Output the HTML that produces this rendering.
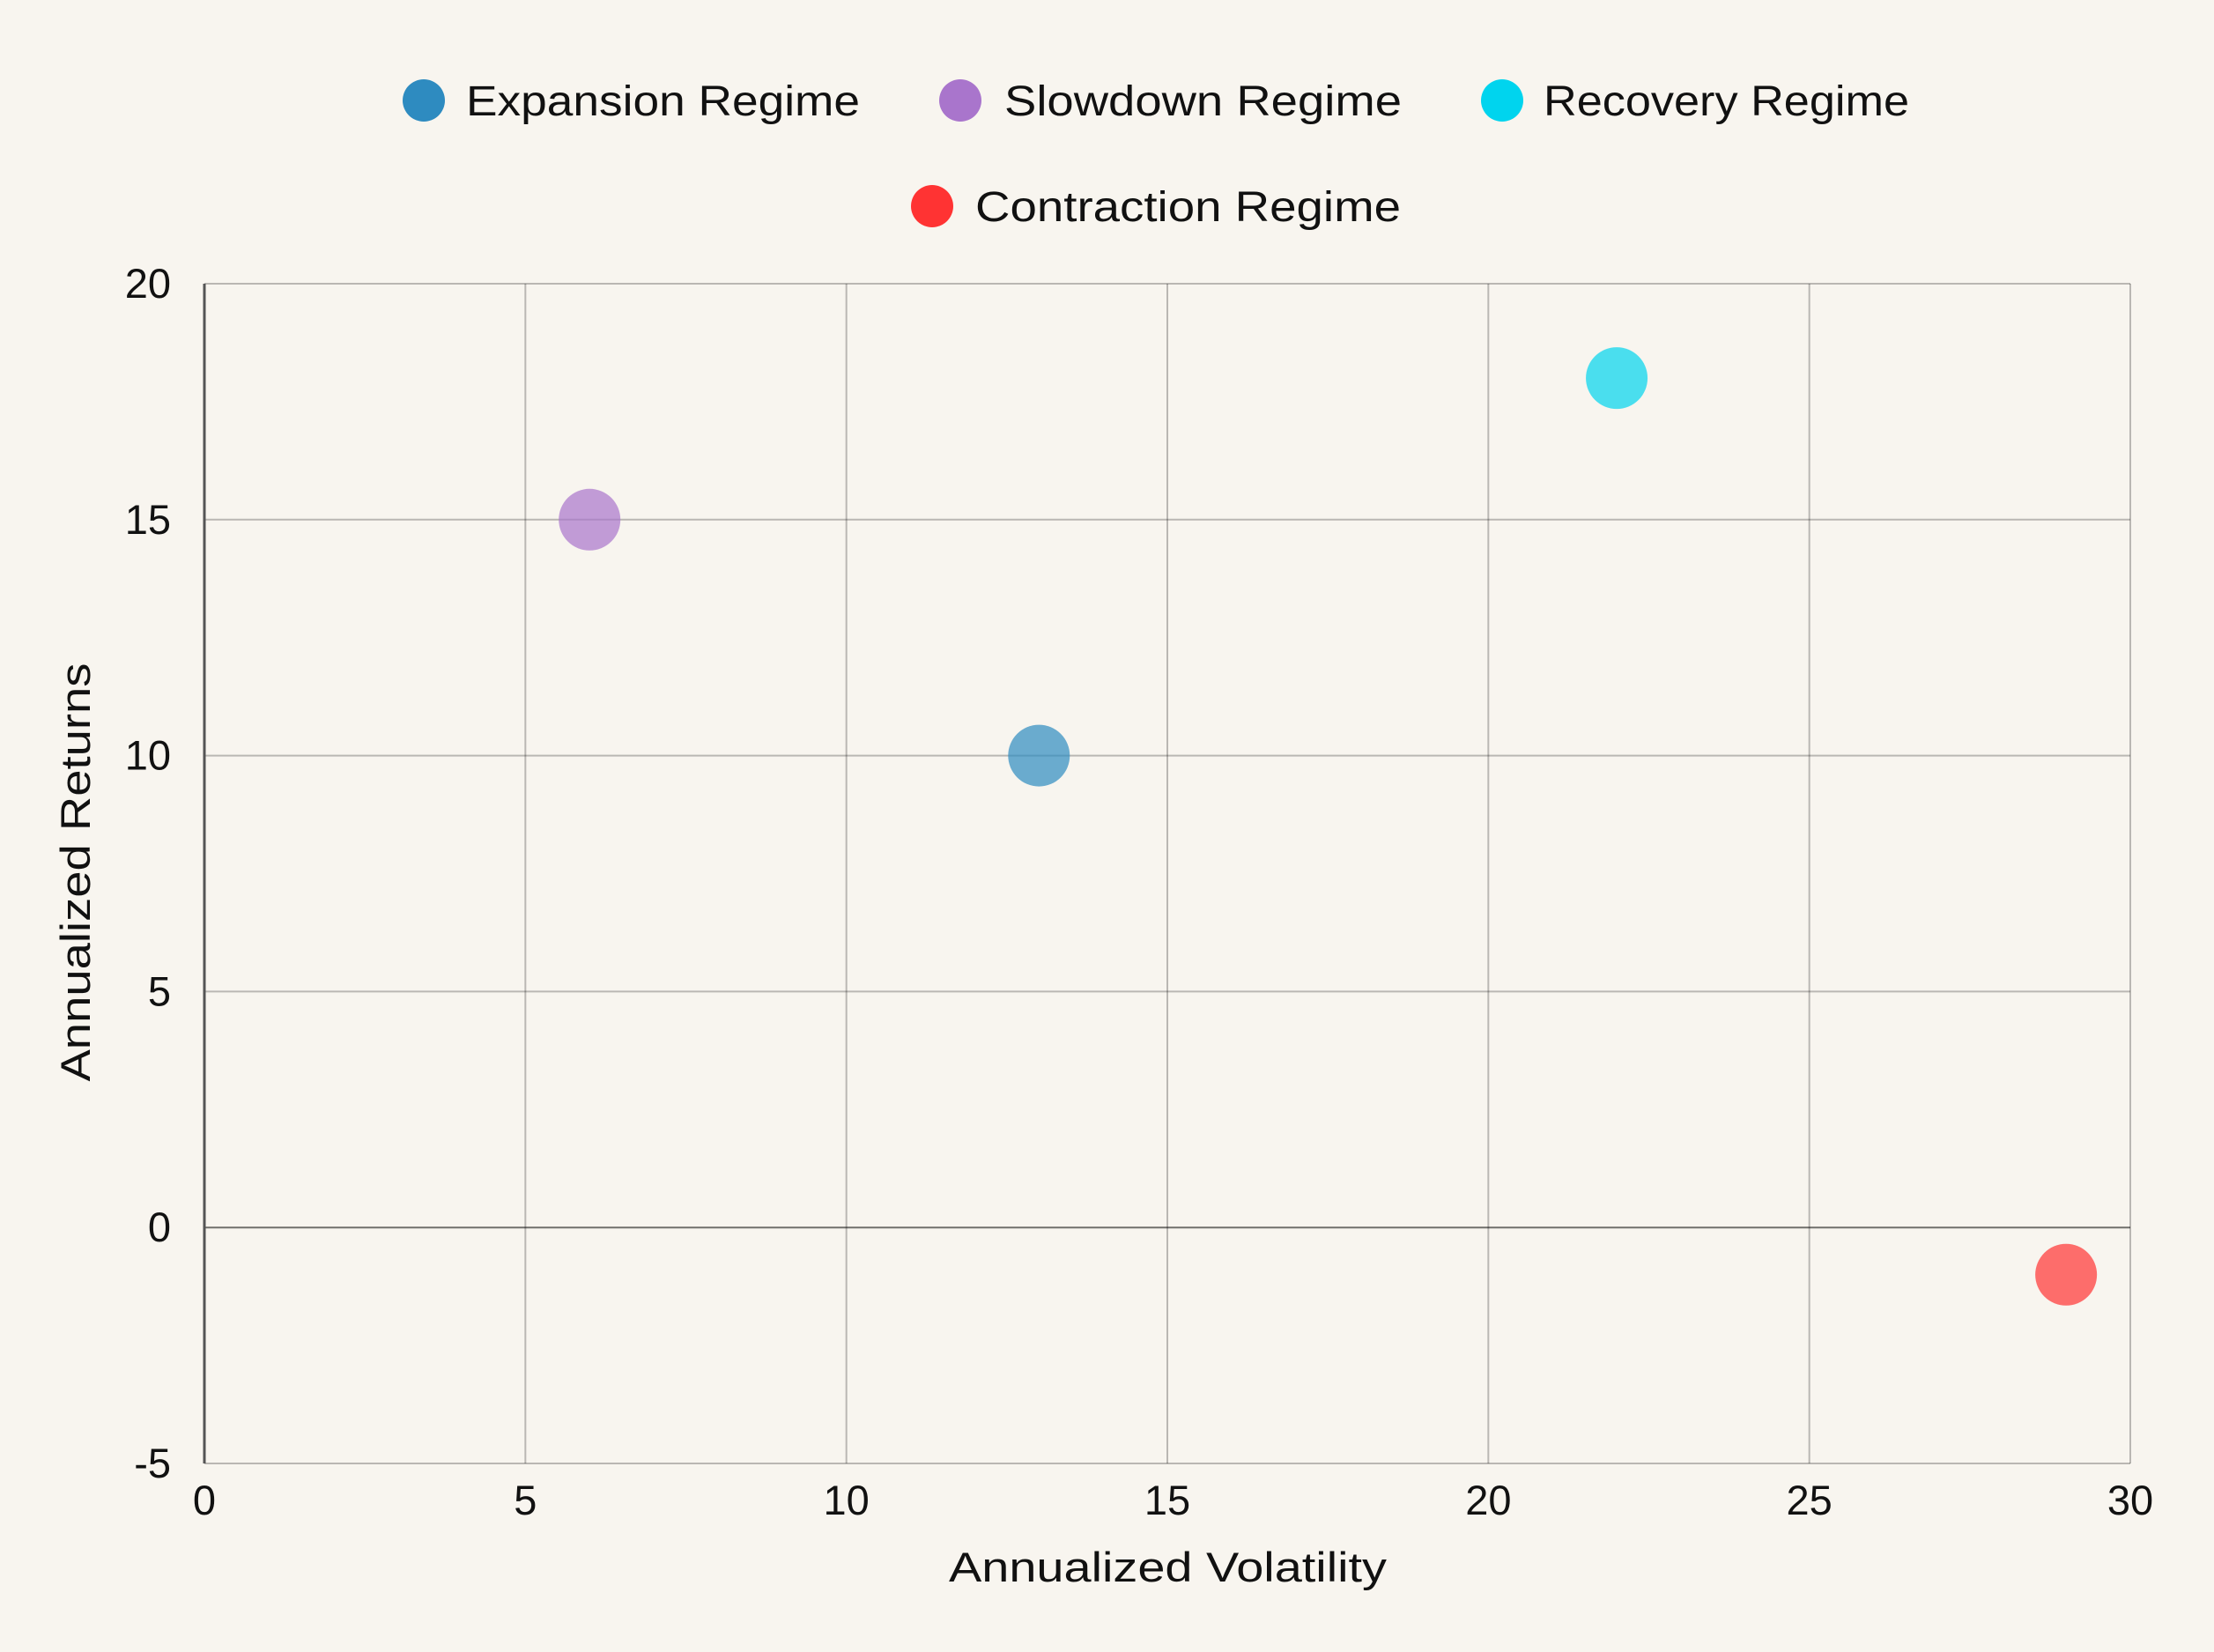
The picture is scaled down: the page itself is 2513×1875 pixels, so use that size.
<!DOCTYPE html>
<html><head><meta charset="utf-8"><style>
html,body{margin:0;padding:0;background:#F8F5EF;}
svg{display:block;font-family:"Liberation Sans",sans-serif;}
</style></head><body>
<svg id="chart" width="2513" height="1875" viewBox="0 0 2513 1875" xmlns="http://www.w3.org/2000/svg">
<rect x="0" y="0" width="2513" height="1875" fill="#F8F5EF"/>
<g id="grid"></g>
<g id="marks"></g>
<g id="axes"></g>
<g id="legend"></g>
<text x="1077" y="1795" textLength="497" lengthAdjust="spacingAndGlyphs" font-size="47" fill="#111">Annualized Volatility</text>
<text x="0" y="0" transform="translate(102,990) rotate(-90)" text-anchor="middle" textLength="475" lengthAdjust="spacingAndGlyphs" font-size="47" fill="#111">Annualized Returns</text>
</svg>
<script>
const seriesNames = ["Expansion Regime","Slowdown Regime","Recovery Regime","Contraction Regime"];
const volatility = [13, 6, 22, 29];
const returns = [10, 15, 18, -1];
const xTicks = [0,5,10,15,20,25,30];
const yTicks = [-5,0,5,10,15,20];
const colors = ["#2E8BC0","#A975CC","#00D4EE","#FF3333"];

const L=232,R=2418,T=322,B=1661;
const xMin=0,xMax=30,yMin=-5,yMax=20;
const sx=v=>L+(v-xMin)/(xMax-xMin)*(R-L);
const sy=v=>B-(v-yMin)/(yMax-yMin)*(B-T);
const NS="http://www.w3.org/2000/svg";
function mk(tag,attrs,parent){const e=document.createElementNS(NS,tag);for(const k in attrs)e.setAttribute(k,attrs[k]);parent.appendChild(e);return e;}
const grid=document.getElementById('grid'),marks=document.getElementById('marks'),axes=document.getElementById('axes'),legend=document.getElementById('legend');

xTicks.forEach(t=>{
  const l=mk('line',{x1:sx(t),x2:sx(t),y1:T,y2:B,stroke:'rgba(0,0,0,0.25)','stroke-width':2},grid);
  
  
  const tx=mk('text',{x:sx(t),y:1719,'text-anchor':'middle','font-size':47,fill:'#111'},axes);
  tx.textContent=t;
  
  
});
yTicks.forEach(t=>{
  const l=mk('line',{x1:L,x2:R,y1:sy(t),y2:sy(t),stroke:t===0?'rgba(0,0,0,0.55)':'rgba(0,0,0,0.25)','stroke-width':2},grid);
  
  
  const tx=mk('text',{x:194,y:sy(t)+16,'text-anchor':'end','font-size':47,fill:'#111'},axes);
  tx.textContent=t;
  
  
});
const ax=mk('line',{x1:L,x2:L,y1:T,y2:B,stroke:'#555','stroke-width':3},axes);



volatility.forEach((v,i)=>{
  const c=mk('circle',{cx:sx(v),cy:sy(returns[i]),r:35,fill:colors[i],'fill-opacity':0.7},marks);
  
  
});

const legPos=[[481,114,529,447],[1090,114,1140,451],[1705,114,1752,415],[1058,234,1107,483]];
seriesNames.forEach((n,i)=>{
  const g=mk('g',{},legend);
  
  
  const [cx,cy,tx0,tw]=legPos[i];
  const c=mk('circle',{cx:cx,cy:cy,r:24,fill:colors[i]},g);
  
  
  const t=mk('text',{x:tx0,y:cy+17,'font-size':48,fill:'#111',textLength:tw,lengthAdjust:'spacingAndGlyphs'},g);
  t.textContent=n;
  
  
});
</script>
</body></html>
